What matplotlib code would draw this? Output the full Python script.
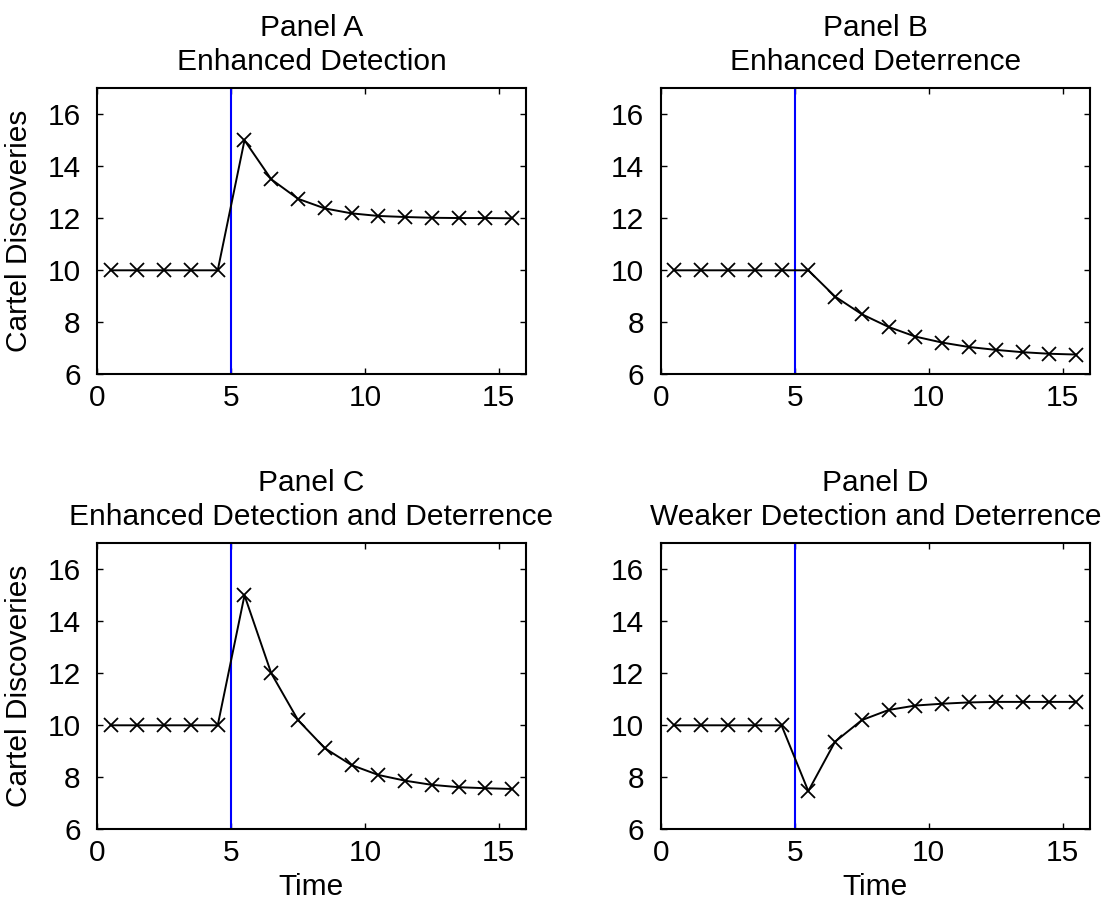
import numpy as np
import matplotlib
matplotlib.use("Agg")
import matplotlib.pyplot as plt

plt.rcParams['font.family'] = ['Liberation Sans', 'DejaVu Sans']

# time periods and the shock date
t = [0.5, 1.5, 2.5, 3.5, 4.5, 5.5, 6.5, 7.5, 8.5, 9.5, 10.5, 11.5, 12.5, 13.5, 14.5, 15.5]
shock = 5

panel_a = [10, 10, 10, 10, 10, 15.0, 13.5, 12.75, 12.38, 12.19, 12.09, 12.05, 12.02, 12.01, 12.01, 12.0]
panel_b = [10, 10, 10, 10, 10, 10.0, 8.99, 8.31, 7.82, 7.45, 7.22, 7.05, 6.94, 6.85, 6.79, 6.76]
panel_c = [10, 10, 10, 10, 10, 15.0, 12.0, 10.2, 9.12, 8.47, 8.09, 7.87, 7.71, 7.62, 7.58, 7.55]
panel_d = [10, 10, 10, 10, 10, 7.47, 9.37, 10.2, 10.59, 10.76, 10.83, 10.88, 10.9, 10.9, 10.9, 10.9]

titles = ["Panel A\nEnhanced Detection",
          "Panel B\nEnhanced Deterrence",
          "Panel C\nEnhanced Detection and Deterrence",
          "Panel D\nWeaker Detection and Deterrence"]
series = [panel_a, panel_b, panel_c, panel_d]

W, H = 1117, 911
fig = plt.figure(figsize=(W / 100, H / 100), dpi=100)

# axes boxes in pixels: left, top, right, bottom
boxes = [(97.3, 88.3, 525.5, 374.3), (661, 88.3, 1089.5, 374.3),
         (97.3, 543.3, 525.5, 829.3), (661, 543.3, 1089.5, 829.3)]

fs = 21.5
for i, (box, y, title) in enumerate(zip(boxes, series, titles)):
    l, tp, r, b = box
    ax = fig.add_axes([l / W, 1 - b / H, (r - l) / W, (b - tp) / H])
    ax.axvline(shock, color='#0000ff', lw=1.5)
    ax.plot(t, y, color='black', lw=1.4, marker='x', markersize=10,
            markeredgewidth=1.3, clip_on=False)
    ax.set_xlim(0, 16)
    ax.set_ylim(6, 17)
    ax.set_xticks([0, 5, 10, 15])
    ax.set_yticks([6, 8, 10, 12, 14, 16])
    ax.tick_params(direction='in', length=4, width=1, top=True, right=True,
                   labelsize=fs)
    ax.tick_params(axis='x', pad=7)
    ax.tick_params(axis='y', pad=12)
    for s in ax.spines.values():
        s.set_linewidth(1.5)
    ax.set_title(title, fontsize=fs, pad=13, linespacing=1.28)
    if i % 2 == 0:
        ax.set_ylabel("Cartel Discoveries", fontsize=fs, labelpad=10)
    if i >= 2:
        ax.set_xlabel("Time", fontsize=fs, labelpad=4)

fig.savefig("out.png", dpi=100)
